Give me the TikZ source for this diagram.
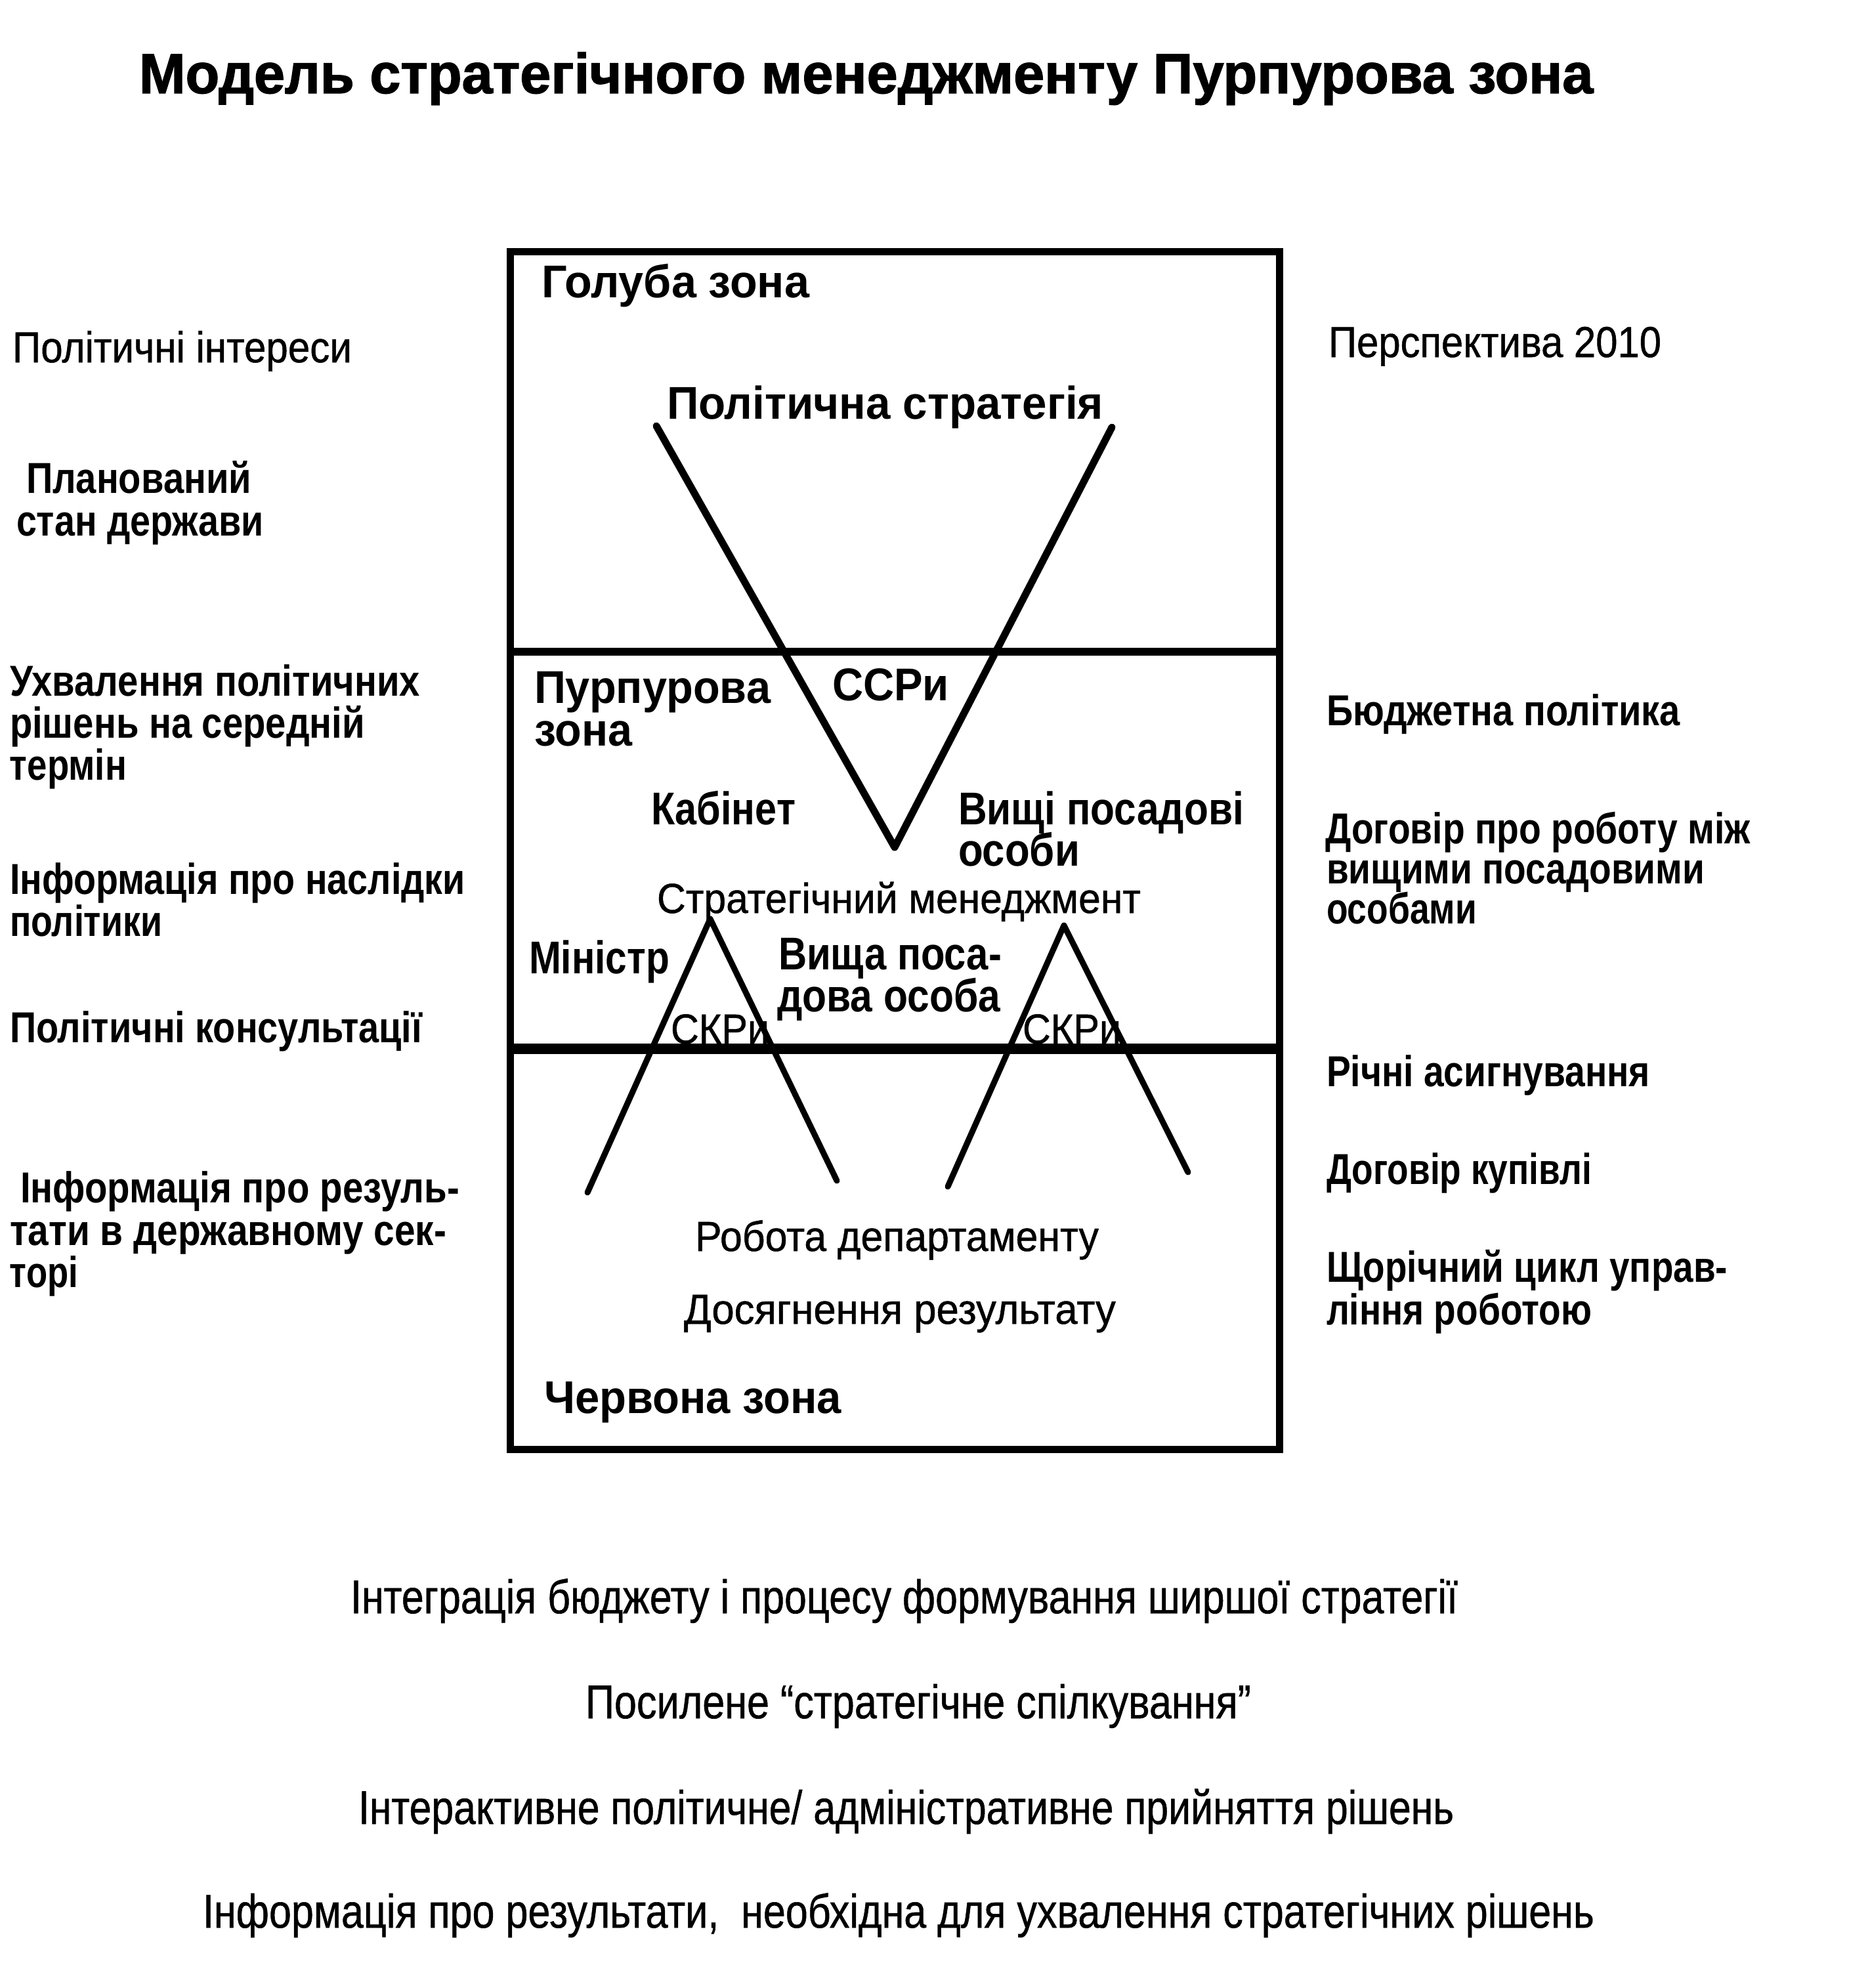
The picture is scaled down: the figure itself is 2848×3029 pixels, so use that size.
\documentclass[tikz,border=0pt]{standalone}
\usepackage{fontspec}
\usepackage{graphicx}
\setmainfont{Liberation Sans}
\newfontfamily\medf[FakeBold=0.8]{Liberation Sans}
\newfontfamily\heavyf[FakeBold=1.6]{Liberation Sans Bold}
\makeatletter
\newlength\fitlen
\newcommand\fitx[2]{\settowidth\fitlen{#2}\scalebox{\fpeval{#1/\strip@pt\fitlen}}[1]{#2}}
\makeatother
\tikzset{
  txt/.style={inner sep=0pt, outer sep=0pt, anchor=base west},
  ttl/.style={txt, font=\fontsize{86}{100}\selectfont\heavyf},
  zone/.style={txt, font=\fontsize{70}{84}\selectfont\bfseries},
  lab/.style={txt, font=\fontsize{64}{76}\selectfont\medf},
  side/.style={txt, font=\fontsize{66}{80}\selectfont\medf},
  sideb/.style={txt, font=\fontsize{66}{80}\selectfont\bfseries},
  foot/.style={txt, font=\fontsize{72}{86}\selectfont\medf},
  frame/.style={line width=11pt},
  vline/.style={line width=11pt, line cap=round, line join=round},
  tline/.style={line width=9pt, line cap=round, line join=round},
}
\begin{document}
\begin{tikzpicture}[x=1pt,y=-1pt]
\useasboundingbox (0,0) rectangle (2848,3029);
% title
\node[ttl] (title) at (212,142) {\fitx{2215}{Модель стратегічного менеджменту Пурпурова зона}};
% frame
\coordinate (bTL) at (777,383);
\coordinate (bBR) at (1949,2208);
\coordinate (d1L) at (777,993);
\coordinate (d1R) at (1949,993);
\coordinate (d2L) at (777,1598);
\coordinate (d2R) at (1949,1598);
\draw[frame] (bTL) rectangle (bBR);
\draw[line width=12pt] (d1L) -- (d1R);
\draw[line width=16pt] (d2L) -- (d2R);
% big V
\coordinate (vL) at (1000,649);
\coordinate (vA) at (1363,1291);
\coordinate (vR) at (1694,651);
\draw[vline] (vL) -- (vA) -- (vR);
% small triangles
\coordinate (t1L) at (895,1817);
\coordinate (t1A) at (1082,1400);
\coordinate (t1R) at (1275,1799);
\draw[tline] (t1L) -- (t1A) -- (t1R);
\coordinate (t2L) at (1444,1808);
\coordinate (t2A) at (1621,1410);
\coordinate (t2R) at (1810,1786);
\draw[tline] (t2L) -- (t2A) -- (t2R);
% zone labels
\node[zone] (blue) at (825,453) {\fitx{408}{Голуба зона}};
\node[zone] (polstr) at (1016,638) {\fitx{665}{Політична стратегія}};
\node[zone] (purp1) at (814,1071) {\fitx{360}{Пурпурова}};
\node[zone] (purp2) at (814,1136) {\fitx{149}{зона}};
\node[zone] (ssr) at (1268,1067) {\fitx{178}{ССРи}};
\node[zone] (kab) at (992,1256) {\fitx{220}{Кабінет}};
\node[zone] (vyshchi1) at (1460,1256) {\fitx{435}{Вищі посадові}};
\node[zone] (vyshchi2) at (1460,1319) {\fitx{185}{особи}};
\node[lab] (strman) at (1001,1391) {\fitx{737}{Стратегічний менеджмент}};
\node[zone] (min) at (806,1483) {\fitx{214}{Міністр}};
\node[zone] (vysh1) at (1186,1477) {\fitx{340}{Вища поса-}};
\node[zone] (vysh2) at (1184,1541) {\fitx{340}{дова особа}};
\node[lab] (skr1) at (1022,1590) {\fitx{150}{СКРи}};
\node[lab] (skr2) at (1558,1590) {\fitx{150}{СКРи}};
\node[lab] (rob) at (1059,1906) {\fitx{615}{Робота департаменту}};
\node[lab] (dos) at (1042,2017) {\fitx{658}{Досягнення результату}};
\node[zone] (red) at (829,2153) {\fitx{453}{Червона зона}};
% left column
\node[side] (l1) at (19,552) {\fitx{517}{Політичні інтереси}};
\node[sideb] (l2a) at (40,751) {\fitx{343}{Планований}};
\node[sideb] (l2b) at (25,816) {\fitx{377}{стан держави}};
\node[sideb] (l3a) at (15,1060) {\fitx{625}{Ухвалення політичних}};
\node[sideb] (l3b) at (15,1124) {\fitx{541}{рішень на середній}};
\node[sideb] (l3c) at (15,1188) {\fitx{178}{термін}};
\node[sideb] (l4a) at (15,1362) {\fitx{694}{Інформація про наслідки}};
\node[sideb] (l4b) at (15,1426) {\fitx{232}{політики}};
\node[sideb] (l5) at (15,1588) {\fitx{628}{Політичні консультації}};
\node[sideb] (l6a) at (31,1832) {\fitx{669}{Інформація про резуль-}};
\node[sideb] (l6b) at (15,1897) {\fitx{665}{тати в державному сек-}};
\node[sideb] (l6c) at (15,1961) {\fitx{104}{торі}};
% right column
\node[side] (r1) at (2024,544) {\fitx{507}{Перспектива 2010}};
\node[sideb] (r2) at (2021,1105) {\fitx{539}{Бюджетна політика}};
\node[sideb] (r3a) at (2019,1285) {\fitx{648}{Договір про роботу між}};
\node[sideb] (r3b) at (2021,1346) {\fitx{576}{вищими посадовими}};
\node[sideb] (r3c) at (2021,1407) {\fitx{229}{особами}};
\node[sideb] (r4) at (2021,1655) {\fitx{493}{Річні асигнування}};
\node[sideb] (r5) at (2021,1804) {\fitx{404}{Договір купівлі}};
\node[sideb] (r6a) at (2021,1953) {\fitx{611}{Щорічний цикл управ-}};
\node[sideb] (r6b) at (2021,2018) {\fitx{404}{ління роботою}};
% bottom lines
\node[foot] (f1) at (534,2458) {\fitx{1687}{Інтеграція бюджету і процесу формування ширшої стратегії}};
\node[foot] (f2) at (892,2618) {\fitx{1014}{Посилене “стратегічне спілкування”}};
\node[foot] (f3) at (546,2779) {\fitx{1669}{Інтерактивне політичне/ адміністративне прийняття рішень}};
\node[foot] (f4) at (309,2937) {\fitx{2120}{Інформація про результати,\ \ необхідна для ухвалення стратегічних рішень}};
\end{tikzpicture}
\end{document}
